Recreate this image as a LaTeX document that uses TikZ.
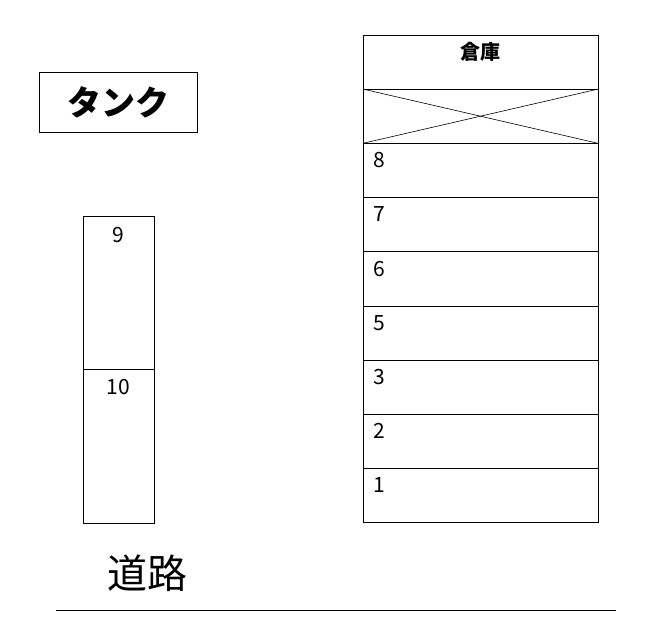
\documentclass[tikz,border=0pt]{standalone}
\usepackage{fontspec}
\setmainfont{Noto Sans CJK JP}
\usetikzlibrary{positioning}
\tikzset{
  cell/.style={draw, minimum width=235, minimum height=54.2, inner sep=0, outer sep=0},
  col/.style={draw, minimum width=71, minimum height=153.5, inner sep=0, outer sep=0},
  num/.style={anchor=north west, inner sep=0, font=\fontsize{21}{21}\selectfont},
}
\begin{document}
\begin{tikzpicture}[x=1pt, y=-1pt, line width=0.8pt]
\useasboundingbox (0,0) rectangle (645,627);
% tank
\node[draw, minimum width=158, minimum height=60, inner sep=0,
  font=\fontsize{34}{34}\selectfont\bfseries] (tank) at (118,102) {タンク};
% warehouse
\node[cell] (head) at (480.5,62) {};
\node[font=\fontsize{20}{20}\selectfont\bfseries, anchor=north, inner sep=0]
  (headlabel) at ([yshift=-7]head.north) {倉庫};
\node[cell, below=0 of head] (cross) {};
\draw[line width=0.6pt] (cross.north west) -- (cross.south east);
\draw[line width=0.6pt] (cross.south west) -- (cross.north east);
\node[cell, below=0 of cross] (r8) {};
\node[cell, below=0 of r8] (r7) {};
\node[cell, below=0 of r7] (r6) {};
\node[cell, below=0 of r6] (r5) {};
\node[cell, below=0 of r5] (r3) {};
\node[cell, below=0 of r3] (r2) {};
\node[cell, below=0 of r2] (r1) {};
\foreach \r in {8,7,6,5,3,2,1}
  \node[num] (n\r) at ([xshift=10, yshift=-9]r\r.north west) {\r};
% column
\node[col] (c9) at (118.5,292.75) {};
\node[col, below=0 of c9] (c10) {};
\node[num, anchor=north] (n9) at ([yshift=-11]c9.north) {9};
\node[num, anchor=north] (n10) at ([yshift=-9]c10.north) {10};
% road
\node[font=\fontsize{40}{40}\selectfont, anchor=west, inner sep=0] (road) at (107,573) {道路};
\coordinate (roadL) at (56,610);
\coordinate (roadR) at (616,610);
\draw (roadL) -- (roadR);
\end{tikzpicture}
\end{document}
